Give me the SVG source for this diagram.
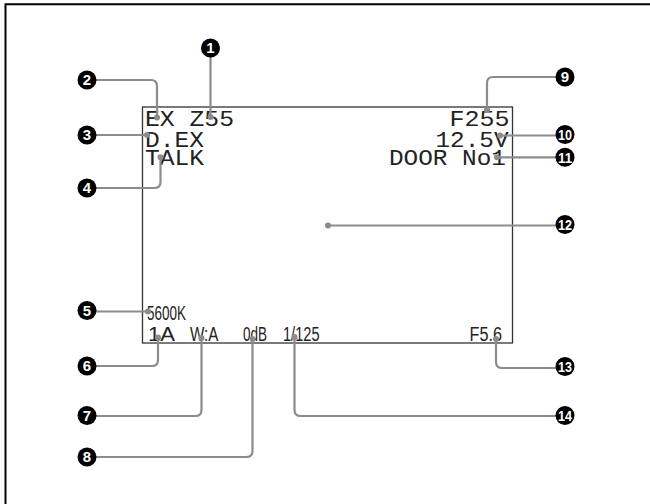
<svg xmlns="http://www.w3.org/2000/svg" width="650" height="504" viewBox="0 0 650 504">
<style>
.lcd{font-family:"Liberation Mono","DejaVu Sans Mono",monospace;font-size:22.5px;fill:#222}
.nar{font-family:"Liberation Sans","Arial",sans-serif;font-size:20px;fill:#222}
.lead{fill:none;stroke:#8c8c8c;stroke-width:2.2;stroke-linecap:round}
.dot{fill:#8c8c8c}
.cc{fill:#000}
.cn{font-family:"Liberation Sans","Arial",sans-serif;font-weight:bold;font-size:15px;fill:#fff;text-anchor:middle}
</style>
<rect width="650" height="504" fill="#fff"/>
<path d="M5.5,504 V4.3 H650" fill="none" stroke="#000" stroke-width="2"/>

<g id="screen">
<rect x="142.5" y="107" width="370" height="236" fill="none" stroke="#333" stroke-width="1.3"/>
<text class="lcd" x="145" y="126" textLength="89" lengthAdjust="spacingAndGlyphs">EX Z55</text>
<text class="lcd" x="145" y="146.5" textLength="59" lengthAdjust="spacingAndGlyphs">D.EX</text>
<text class="lcd" x="145" y="165" textLength="59" lengthAdjust="spacingAndGlyphs">TALK</text>
<text class="lcd" x="449.5" y="126" textLength="60" lengthAdjust="spacingAndGlyphs">F255</text>
<text class="lcd" x="435.5" y="146.5" textLength="73" lengthAdjust="spacingAndGlyphs">12.5V</text>
<text class="lcd" x="389" y="165" textLength="117" lengthAdjust="spacingAndGlyphs">DOOR No1</text>
<text class="nar" x="147" y="320" font-size="18.5" textLength="39" lengthAdjust="spacingAndGlyphs">5600K</text>
<text class="nar" x="148" y="341" textLength="27" lengthAdjust="spacingAndGlyphs">1A</text>
<text class="nar" x="190" y="341" textLength="28.5" lengthAdjust="spacingAndGlyphs">W:A</text>
<text class="nar" x="243" y="341" textLength="24" lengthAdjust="spacingAndGlyphs">0dB</text>
<text class="nar" x="283" y="341" textLength="36.5" lengthAdjust="spacingAndGlyphs">1/125</text>
<text class="nar" x="469.5" y="341" textLength="32.5" lengthAdjust="spacingAndGlyphs">F5.6</text>
</g>

<g id="connectors">
<path class="lead" d="M210.5,57 V117"/>
<path class="lead" d="M87,80 H151 Q157,80 157,86 V117.5"/>
<path class="lead" d="M87,135 H147"/>
<path class="lead" d="M87,188 H154.5 Q160.5,188 160.5,182 V157.3"/>
<path class="lead" d="M87,311.5 H148"/>
<path class="lead" d="M158,337.5 V360 Q158,366 152,366 H87"/>
<path class="lead" d="M201.5,338 V410 Q201.5,416 195.5,416 H87"/>
<path class="lead" d="M252.5,339 V451 Q252.5,457 246.5,457 H87"/>
<path class="lead" d="M487,110 V83 Q487,77 493,77 H565"/>
<path class="lead" d="M500,135.5 H565"/>
<path class="lead" d="M497,157.3 H565"/>
<path class="lead" d="M328,225.5 H565"/>
<path class="lead" d="M496,339 V362 Q496,368 502,368 H565"/>
<path class="lead" d="M294.5,337 V410 Q294.5,416 300.5,416 H565"/>
<circle class="dot" cx="210.5" cy="117" r="3"/>
<circle class="dot" cx="157" cy="117.5" r="3"/>
<circle class="dot" cx="147" cy="135" r="3"/>
<circle class="dot" cx="160.5" cy="157.3" r="3"/>
<circle class="dot" cx="148" cy="311.5" r="3"/>
<circle class="dot" cx="158" cy="337.5" r="3"/>
<circle class="dot" cx="201.5" cy="338" r="3"/>
<circle class="dot" cx="252.5" cy="339" r="3"/>
<circle class="dot" cx="487" cy="110" r="3"/>
<circle class="dot" cx="500" cy="135.5" r="3"/>
<circle class="dot" cx="497" cy="157.3" r="3"/>
<circle class="dot" cx="328" cy="225.5" r="3"/>
<circle class="dot" cx="496" cy="339" r="3"/>
<circle class="dot" cx="294.5" cy="337" r="3"/>
</g>

<g id="n1"><circle class="cc" cx="210.5" cy="48" r="9.5"/><text class="cn" x="210.5" y="53.4">1</text></g>
<g id="n2"><circle class="cc" cx="87" cy="80" r="9.5"/><text class="cn" x="87" y="85.4">2</text></g>
<g id="n3"><circle class="cc" cx="87" cy="135" r="9.5"/><text class="cn" x="87" y="140.4">3</text></g>
<g id="n4"><circle class="cc" cx="87" cy="188" r="9.5"/><text class="cn" x="87" y="193.4">4</text></g>
<g id="n5"><circle class="cc" cx="87" cy="310.5" r="9.5"/><text class="cn" x="87" y="315.9">5</text></g>
<g id="n6"><circle class="cc" cx="87" cy="366" r="9.5"/><text class="cn" x="87" y="371.4">6</text></g>
<g id="n7"><circle class="cc" cx="87" cy="415.5" r="9.5"/><text class="cn" x="87" y="420.9">7</text></g>
<g id="n8"><circle class="cc" cx="87" cy="457" r="9.5"/><text class="cn" x="87" y="462.4">8</text></g>
<g id="n9"><circle class="cc" cx="565" cy="77" r="9.5"/><text class="cn" x="565" y="82.4">9</text></g>
<g id="n10"><circle class="cc" cx="565" cy="134.5" r="9.5"/><text class="cn" x="565" y="139.9" textLength="14" lengthAdjust="spacingAndGlyphs">10</text></g>
<g id="n11"><circle class="cc" cx="565" cy="157.3" r="9.5"/><text class="cn" x="565" y="162.7" textLength="14" lengthAdjust="spacingAndGlyphs">11</text></g>
<g id="n12"><circle class="cc" cx="565" cy="224.5" r="9.5"/><text class="cn" x="565" y="229.9" textLength="14" lengthAdjust="spacingAndGlyphs">12</text></g>
<g id="n13"><circle class="cc" cx="565" cy="366.5" r="9.5"/><text class="cn" x="565" y="371.9" textLength="14" lengthAdjust="spacingAndGlyphs">13</text></g>
<g id="n14"><circle class="cc" cx="565" cy="415.5" r="9.5"/><text class="cn" x="565" y="420.9" textLength="14" lengthAdjust="spacingAndGlyphs">14</text></g>
</svg>
